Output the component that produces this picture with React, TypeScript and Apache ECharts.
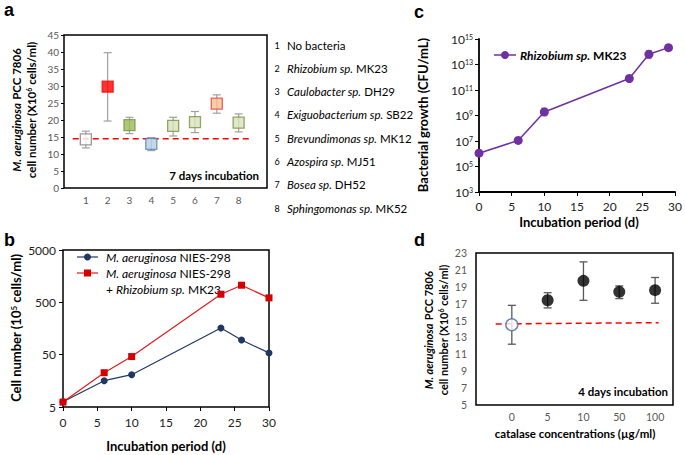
import React, { useEffect, useRef } from "react";
import * as echarts from "echarts";

const FONT = 'Lato, "Liberation Sans", sans-serif';

// ---- panel a ----
const aIds = [1, 2, 3, 4, 5, 6, 7, 8];
const aGenus = ["", "Rhizobium", "Caulobacter", "Exiguobacterium", "Brevundimonas", "Azospira", "Bosea", "Sphingomonas"];
const aStrain = ["No bacteria", "MK23", "DH29", "SB22", "MK12", "MJ51", "DH52", "MK52"];
const aMeans = [14.3, 29.8, 18.5, 13.0, 18.3, 19.4, 24.8, 19.2];
const aLow = [11.8, 19.7, 16.0, 11.0, 15.3, 16.3, 22.0, 16.5];
const aHigh = [16.7, 39.8, 20.8, 14.8, 20.8, 22.5, 27.4, 21.8];
const aFill = ["#ffffff", "#ff0000", "#9bbb59", "#b9cde5", "#d7e4bd", "#d7e4bd", "#fac090", "#d7e4bd"];
const aBorder = ["#7f7f7f", "#ff0000", "#77933c", "#4f81bd", "#77933c", "#77933c", "#e8403a", "#77933c"];
const aControl = 14.5;

// ---- panel b ----
const bDays = [0, 6, 10, 23, 26, 30];
const bAlone = [6.3, 15.9, 20.7, 161, 95, 54];
const bWithRhizobium = [6.2, 22.6, 46, 714, 1062, 608];
const bBase = 5;

// ---- panel c ----
const cDays = [0, 6, 10, 23, 26, 29];
const cCfu = [1.1e6, 1.1e7, 1.9e9, 8.0e11, 6.3e13, 2.1e14];
const cErrLog = [0, 0, 0.3, 0, 0.3, 0.08];

// ---- panel d ----
const dConc = ["0", "5", "10", "50", "100"];
const dMeans = [14.5, 17.4, 19.7, 18.4, 18.6];
const dLow = [12.2, 16.5, 17.4, 17.6, 17.05];
const dHigh = [16.8, 18.3, 21.95, 19.1, 20.1];
const dControl = [14.6, 14.75];

const errRender = (color: string, cap: number, width: number) => (params: any, api: any) => {
  const x = api.value(0);
  const p1 = api.coord([x, api.value(1)]);
  const p2 = api.coord([x, api.value(2)]);
  const st = { stroke: color, lineWidth: width };
  return {
    type: "group",
    children: [
      { type: "line", shape: { x1: p1[0], y1: p1[1], x2: p2[0], y2: p2[1] }, style: st },
      { type: "line", shape: { x1: p1[0] - cap, y1: p1[1], x2: p1[0] + cap, y2: p1[1] }, style: st },
      { type: "line", shape: { x1: p2[0] - cap, y1: p2[1], x2: p2[0] + cap, y2: p2[1] }, style: st },
    ],
  };
};

const supRich = (size: number, color: string, bold: boolean) => ({
  n: { fontSize: size, color, fontFamily: FONT, fontWeight: bold ? "bold" : "normal" },
  i: { fontSize: size, color, fontFamily: FONT, fontWeight: bold ? "bold" : "normal", fontStyle: "italic" },
  s: { fontSize: Math.round(size * 0.62), color, fontFamily: FONT, fontWeight: bold ? "bold" : "normal", verticalAlign: "top" },
});

const vText = (x: number, y: number, text: string, size: number) => ({
  type: "text",
  x,
  y,
  rotation: Math.PI / 2,
  style: { text, rich: supRich(size, "#000", true), align: "center", verticalAlign: "middle" },
});

const App: React.FC = () => {
  const ref = useRef<HTMLDivElement>(null);
  useEffect(() => {
    if (!ref.current) return;
    const chart = echarts.init(ref.current, null, { renderer: "svg" });

    const graphic: any[] = [];
    // panel letters
    [["a", 4, 10], ["b", 4, 240], ["c", 414, 12], ["d", 414, 240]].forEach(([t, x, y]) =>
      graphic.push({ type: "text", x, y, style: { text: t, font: 'bold 18px "Liberation Sans", Arial', fill: "#000", verticalAlign: "middle" } })
    );
    // legend list a
    aIds.forEach((id, i) => {
      const y = 45 + i * 23.3;
      graphic.push({ type: "text", x: 277, y, style: { text: String(id), fontSize: 9, fontFamily: FONT, fill: "#000", align: "center", verticalAlign: "middle" } });
      const txt = aGenus[i] ? `{i|${aGenus[i]} sp.}{n| ${aStrain[i]}}` : `{n|${aStrain[i]}}`;
      graphic.push({ type: "text", x: 287, y, style: { text: txt, rich: supRich(11.5, "#000", false), verticalAlign: "middle" } });
    });
    // y titles
    graphic.push(vText(16, 110, "{i|M. aeruginosa} {n|PCC 7806}", 11.5));
    graphic.push(vText(31, 110, "{n|cell number (X10}{s|6}{n| cells/ml)}", 11.5));
    graphic.push(vText(16, 328, "{n|Cell number (10}{s|5}{n| cells/ml)}", 13));
    graphic.push(vText(423, 115, "{n|Bacterial growth (CFU/mL)}", 13));
    graphic.push(vText(428, 330, "{i|M. aeruginosa} {n|PCC 7806}", 11));
    graphic.push(vText(443, 330, "{n|cell number (X10}{s|6}{n| cells/ml)}", 11));
    // x titles
    const hTitle = (x: number, y: number, text: string, size: number) =>
      graphic.push({ type: "text", x, y, style: { text, fontSize: size, fontWeight: "bold", fontFamily: FONT, fill: "#000", align: "center", verticalAlign: "middle" } });
    hTitle(166, 446, "Incubation period (d)", 13);
    hTitle(579, 222, "Incubation period (d)", 13);
    hTitle(575, 433, "catalase concentrations (µg/ml)", 11.5);
    // inner notes
    graphic.push({ type: "text", x: 259, y: 175, style: { text: "7 days incubation", fontSize: 11.5, fontWeight: "bold", fontFamily: FONT, fill: "#000", align: "right", verticalAlign: "middle" } });
    graphic.push({ type: "text", x: 668, y: 391, style: { text: "4 days incubation", fontSize: 11.5, fontWeight: "bold", fontFamily: FONT, fill: "#000", align: "right", verticalAlign: "middle" } });
    // legend c
    graphic.push({ type: "line", shape: { x1: 494, y1: 55, x2: 516, y2: 55 }, style: { stroke: "#7030a0", lineWidth: 1.5 } });
    graphic.push({ type: "circle", shape: { cx: 505, cy: 55, r: 4 }, style: { fill: "#7030a0" } });
    graphic.push({ type: "text", x: 520, y: 55, style: { text: "{i|Rhizobium sp.}{n| MK23}", rich: supRich(12, "#000", true), verticalAlign: "middle" } });
    // legend b
    graphic.push({ type: "line", shape: { x1: 77, y1: 257, x2: 98, y2: 257 }, style: { stroke: "#203864", lineWidth: 1.2 } });
    graphic.push({ type: "circle", shape: { cx: 87.5, cy: 257, r: 3.5 }, style: { fill: "#203864" } });
    graphic.push({ type: "text", x: 106, y: 257, style: { text: "{i|M. aeruginosa}{n| NIES-298}", rich: supRich(12, "#000", false), verticalAlign: "middle" } });
    graphic.push({ type: "line", shape: { x1: 77, y1: 273, x2: 98, y2: 273 }, style: { stroke: "#e8191a", lineWidth: 1.2 } });
    graphic.push({ type: "rect", shape: { x: 84, y: 269.5, width: 7, height: 7 }, style: { fill: "#d40000" } });
    graphic.push({ type: "text", x: 106, y: 273, style: { text: "{i|M. aeruginosa}{n| NIES-298}", rich: supRich(12, "#000", false), verticalAlign: "middle" } });
    graphic.push({ type: "text", x: 106, y: 289, style: { text: "{n|+ }{i|Rhizobium sp.}{n| MK23}", rich: supRich(12, "#000", false), verticalAlign: "middle" } });

    const lblGray = { fontFamily: FONT, fontSize: 10, color: "#595959" };
    const lblDark = { fontFamily: FONT, fontSize: 12, color: "#222" };

    chart.setOption({
      animation: false,
      grid: [
        { left: 64, top: 35, width: 203, height: 153, show: true, borderColor: "#000", borderWidth: 1.5, backgroundColor: "transparent" },
        { left: 63, top: 250, width: 206, height: 157, show: true, borderColor: "#000", borderWidth: 1.5, backgroundColor: "transparent" },
        { left: 479, top: 39, width: 200, height: 153 },
        { left: 476, top: 253, width: 197, height: 152, show: true, borderColor: "#000", borderWidth: 1.5, backgroundColor: "transparent" },
      ],
      xAxis: [
        {
          gridIndex: 0, type: "value", min: 0, max: 9.3, interval: 1,
          axisLine: { show: false }, axisTick: { show: false }, splitLine: { show: false },
          axisLabel: { ...lblGray, margin: 7, formatter: (v: number) => (v >= 1 && v <= 8 ? String(v) : "") },
        },
        {
          gridIndex: 1, type: "value", min: 0, max: 30, interval: 5,
          axisLine: { show: false }, axisTick: { show: true, length: 4, lineStyle: { color: "#000" } }, splitLine: { show: false },
          axisLabel: { ...lblDark, margin: 9 },
        },
        {
          gridIndex: 2, type: "value", min: 0, max: 30, interval: 5,
          axisLine: { show: true, lineStyle: { color: "#000", width: 1.8 } }, axisTick: { show: true, length: 4, lineStyle: { color: "#000" } }, splitLine: { show: false },
          axisLabel: { ...lblDark, margin: 8 },
        },
        {
          gridIndex: 3, type: "value", min: -1, max: 4.5, interval: 1,
          axisLine: { show: false }, axisTick: { show: false }, splitLine: { show: false },
          axisLabel: { ...lblGray, fontSize: 10.5, margin: 6, formatter: (v: number) => dConc[v] ?? "" },
        },
      ],
      yAxis: [
        {
          gridIndex: 0, type: "value", min: 0, max: 45, interval: 5,
          axisLine: { show: false }, axisTick: { show: true, length: 3, lineStyle: { color: "#000" } }, splitLine: { show: false },
          axisLabel: { ...lblGray, margin: 5 },
        },
        {
          gridIndex: 1, type: "value", min: 0, max: 3, interval: 1,
          axisLine: { show: false }, axisTick: { show: true, length: 4, lineStyle: { color: "#000" } }, splitLine: { show: false },
          axisLabel: { ...lblDark, margin: 7, formatter: (v: number) => String(Math.round(bBase * Math.pow(10, v))) },
        },
        {
          gridIndex: 2, type: "value", min: 3, max: 15, interval: 2,
          axisLine: { show: true, lineStyle: { color: "#000", width: 1.8 } }, axisTick: { show: true, length: 4, lineStyle: { color: "#000" } }, splitLine: { show: false },
          axisLabel: { margin: 6, formatter: (v: number) => `{n|10}{s|${v}}`, rich: supRich(12, "#222", false) },
        },
        {
          gridIndex: 3, type: "value", min: 5, max: 23, interval: 2,
          axisLine: { show: false }, axisTick: { show: false }, splitLine: { show: false },
          axisLabel: { ...lblGray, fontSize: 10.5, margin: 9 },
        },
      ],
      series: [
        // panel a
        {
          type: "line", xAxisIndex: 0, yAxisIndex: 0, showSymbol: false, silent: true, z: 1,
          data: [[0.4, aControl], [8.5, aControl]],
          lineStyle: { color: "#ff0000", type: [6, 4], width: 1.5 },
        },
        {
          type: "custom", xAxisIndex: 0, yAxisIndex: 0, z: 2,
          renderItem: errRender("#a0a0a0", 4, 1.2),
          data: aIds.map((id, i) => [id, aLow[i], aHigh[i]]),
        },
        {
          type: "scatter", xAxisIndex: 0, yAxisIndex: 0, symbol: "rect", symbolSize: 11, z: 3,
          data: aIds.map((id, i) => ({ value: [id, aMeans[i]], itemStyle: { color: aFill[i], borderColor: aBorder[i], borderWidth: 1.3 } })),
        },
        // panel b
        {
          type: "line", xAxisIndex: 1, yAxisIndex: 1, symbol: "circle", symbolSize: 7,
          data: bDays.map((d, i) => [d, Math.log10(bAlone[i] / bBase)]),
          lineStyle: { color: "#203864", width: 1.2 }, itemStyle: { color: "#203864" },
        },
        {
          type: "line", xAxisIndex: 1, yAxisIndex: 1, symbol: "rect", symbolSize: 7,
          data: bDays.map((d, i) => [d, Math.log10(bWithRhizobium[i] / bBase)]),
          lineStyle: { color: "#e8191a", width: 1.2 }, itemStyle: { color: "#d40000" },
        },
        // panel c
        {
          type: "custom", xAxisIndex: 2, yAxisIndex: 2, z: 1,
          renderItem: errRender("#808080", 3, 1),
          data: cDays.map((d, i) => [d, Math.log10(cCfu[i]) - cErrLog[i], Math.log10(cCfu[i]) + cErrLog[i]]),
        },
        {
          type: "line", xAxisIndex: 2, yAxisIndex: 2, symbol: "circle", symbolSize: 9, z: 2,
          data: cDays.map((d, i) => [d, Math.log10(cCfu[i])]),
          lineStyle: { color: "#7030a0", width: 1.5 }, itemStyle: { color: "#7030a0" },
        },
        // panel d
        {
          type: "line", xAxisIndex: 3, yAxisIndex: 3, showSymbol: false, silent: true, z: 1,
          data: [[-0.45, dControl[0]], [4.1, dControl[1]]],
          lineStyle: { color: "#ff0000", type: [6, 4], width: 1.5 },
        },
        {
          type: "custom", xAxisIndex: 3, yAxisIndex: 3, z: 2,
          renderItem: errRender("#595959", 4, 1.3),
          data: dConc.map((c, i) => [i, dLow[i], dHigh[i]]),
        },
        {
          type: "scatter", xAxisIndex: 3, yAxisIndex: 3, symbol: "circle", symbolSize: 12, z: 3,
          data: dConc.map((c, i) => ({
            value: [i, dMeans[i]],
            itemStyle: i === 0 ? { color: "#ffffff", borderColor: "#4f6d9a", borderWidth: 1.5 } : { color: "#000000" },
          })),
        },
      ],
      graphic,
    });
    return () => chart.dispose();
  }, []);
  return <div ref={ref} style={{ width: 685, height: 455, position: "absolute", left: 0, top: 0 }} />;
};

export default App;
